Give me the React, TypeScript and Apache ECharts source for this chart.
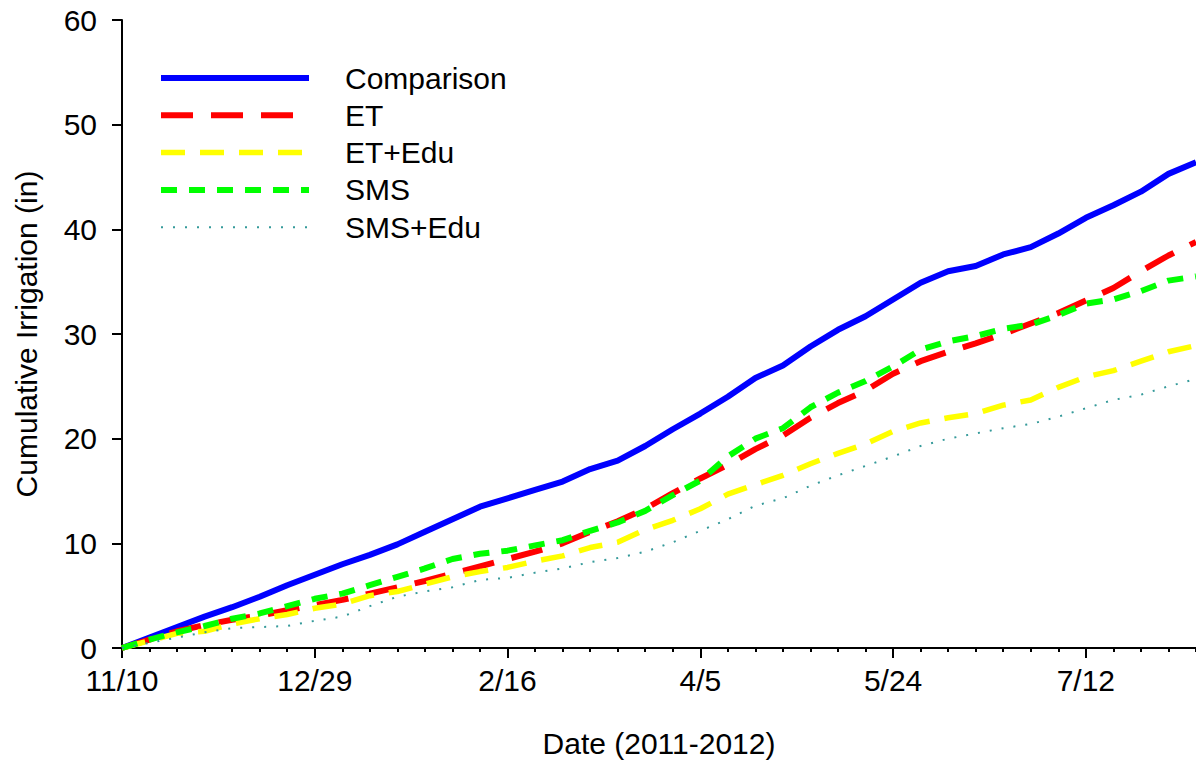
import React, { useEffect, useRef } from "react";
import * as echarts from "echarts";

// Days since 11/10/2011 (weekly readings)
const days = [0, 7, 14, 21, 28, 35, 42, 49, 56, 63, 70, 77, 84, 91, 98, 105, 112, 119, 126, 133, 140, 147, 154, 161, 168, 175, 182, 189, 196, 203, 210, 217, 224, 231, 238, 245, 252, 259, 266, 273];

const comparison = [0, 1.0, 2.0, 3.0, 3.9, 4.9, 6.0, 7.0, 8.0, 8.9, 9.9, 11.1, 12.3, 13.5, 14.3, 15.1, 15.9, 17.1, 17.9, 19.3, 20.9, 22.4, 24.0, 25.8, 27.0, 28.8, 30.4, 31.7, 33.3, 34.9, 36.0, 36.5, 37.6, 38.3, 39.6, 41.1, 42.3, 43.6, 45.3, 46.4];
const et = [0, 0.8, 1.6, 2.2, 2.7, 3.1, 3.6, 4.1, 4.6, 5.2, 5.8, 6.4, 7.1, 7.8, 8.5, 9.2, 10.0, 11.1, 12.1, 13.3, 14.8, 16.2, 17.5, 19.0, 20.3, 22.0, 23.4, 24.6, 26.2, 27.4, 28.3, 29.1, 30.0, 31.0, 32.0, 33.2, 34.4, 36.0, 37.5, 38.8];
const etEdu = [0, 0.7, 1.4, 1.6, 2.3, 2.8, 3.2, 3.8, 4.2, 5.0, 5.4, 6.1, 6.8, 7.3, 7.7, 8.3, 8.8, 9.6, 10.1, 11.3, 12.2, 13.3, 14.7, 15.6, 16.5, 17.6, 18.6, 19.5, 20.7, 21.5, 22.0, 22.4, 23.2, 23.7, 24.9, 25.9, 26.5, 27.4, 28.3, 28.9];
const sms = [0, 0.8, 1.5, 2.1, 2.8, 3.3, 4.0, 4.7, 5.2, 6.0, 6.8, 7.6, 8.5, 9.0, 9.3, 9.8, 10.3, 11.2, 12.0, 13.1, 14.6, 16.0, 18.3, 20.0, 21.0, 23.0, 24.4, 25.5, 26.9, 28.5, 29.3, 29.8, 30.5, 30.9, 31.8, 32.9, 33.3, 34.1, 35.1, 35.5];
const smsEdu = [0, 0.5, 1.0, 1.5, 1.9, 2.0, 2.1, 2.6, 3.0, 4.0, 4.9, 5.4, 5.8, 6.5, 6.7, 7.2, 7.6, 8.2, 8.6, 9.2, 10.1, 11.2, 12.3, 13.6, 14.3, 15.5, 16.5, 17.4, 18.3, 19.3, 20.0, 20.5, 21.0, 21.4, 22.1, 22.9, 23.7, 24.2, 25.0, 25.7];

const majorTickDays = [0, 49, 98, 147, 196, 245];
const tickLabels = ["11/10", "12/29", "2/16", "4/5", "5/24", "7/12"];

const seriesNames = ["Comparison", "ET", "ET+Edu", "SMS", "SMS+Edu"];
const seriesValues = [comparison, et, etEdu, sms, smsEdu];

const FONT = "'Liberation Sans', Arial, Helvetica, sans-serif";

export default function App() {
  const ref = useRef<HTMLDivElement>(null);

  useEffect(() => {
    if (!ref.current) return;
    const chart = echarts.init(ref.current, undefined, { renderer: "svg" });

    const styles = [
      { color: "#0000ff", width: 6, type: "solid" as any },
      { color: "#ff0000", width: 6, type: [32, 18] },
      { color: "#ffff00", width: 5.5, type: [24, 15] },
      { color: "#00ff00", width: 6, type: [16, 12] },
      { color: "#359a9a", width: 2, type: [2, 10] },
    ];

    const series = seriesNames.map((name, i) => ({
      name,
      type: "line",
      xAxisIndex: 0,
      yAxisIndex: 0,
      symbol: "none",
      showSymbol: false,
      smooth: false,
      color: styles[i].color,
      lineStyle: styles[i],
      data: days.map((d, j) => [d, seriesValues[i][j]]),
    }));

    const option: any = {
      animation: false,
      backgroundColor: "#ffffff",
      textStyle: { fontFamily: FONT },
      grid: { left: 122, right: 0, top: 20, bottom: 117, containLabel: false },
      legend: {
        orient: "vertical",
        left: 158,
        top: 63,
        padding: 0,
        itemWidth: 148,
        itemHeight: 20,
        itemGap: 7.3,
        selectedMode: false,
        itemStyle: { opacity: 0 },
        lineStyle: { width: "inherit" },
        textStyle: {
          fontFamily: FONT,
          fontSize: 30,
          color: "#000",
          padding: [0, 0, 0, 31],
        },
        data: seriesNames,
      },
      xAxis: [
        {
          type: "value",
          min: 0,
          max: 273,
          interval: 7,
          position: "bottom",
          axisLine: { show: true, onZero: false, lineStyle: { color: "#000", width: 2 } },
          axisTick: { show: true, inside: false, length: 4, lineStyle: { color: "#000", width: 2 } },
          axisLabel: { show: false },
          splitLine: { show: false },
        },
        {
          type: "value",
          min: 0,
          max: 273,
          interval: 49,
          position: "bottom",
          offset: 0,
          name: "Date (2011-2012)",
          nameLocation: "middle",
          nameGap: 80,
          nameTextStyle: { fontFamily: FONT, fontSize: 30, color: "#000" },
          axisLine: { show: false, onZero: false },
          axisTick: {
            show: true,
            inside: false,
            length: 10,
            customValues: majorTickDays,
            lineStyle: { color: "#000", width: 2 },
          },
          axisLabel: {
            show: true,
            margin: 17,
            fontFamily: FONT,
            fontSize: 30,
            color: "#000",
            customValues: majorTickDays,
            formatter: (v: number) => {
              const idx = majorTickDays.indexOf(Math.round(v));
              return idx >= 0 ? tickLabels[idx] : "";
            },
          },
          splitLine: { show: false },
        },
      ],
      yAxis: {
        type: "value",
        min: 0,
        max: 60,
        interval: 10,
        name: "Cumulative Irrigation (in)",
        nameLocation: "middle",
        nameGap: 81,
        nameRotate: 90,
        nameTextStyle: { fontFamily: FONT, fontSize: 30, color: "#000" },
        axisLine: { show: true, onZero: false, lineStyle: { color: "#000", width: 2 } },
        axisTick: { show: true, inside: false, length: 10, lineStyle: { color: "#000", width: 2 } },
        axisLabel: { margin: 25, fontFamily: FONT, fontSize: 30, color: "#000" },
        splitLine: { show: false },
      },
      series,
    };

    chart.setOption(option);
    return () => chart.dispose();
  }, []);

  return (
    <div
      ref={ref}
      style={{ position: "fixed", left: 0, top: 0, width: 1196, height: 765, background: "#fff" }}
    />
  );
}
